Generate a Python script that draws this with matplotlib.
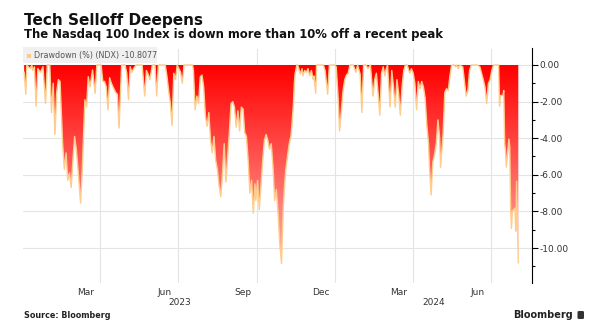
import numpy as np
import pandas as pd
import matplotlib
matplotlib.use('Agg')
import matplotlib.pyplot as plt
import matplotlib.dates as mdates
from matplotlib.colors import LinearSegmentedColormap
from matplotlib.patches import Polygon, Rectangle, FancyBboxPatch
from matplotlib.ticker import FuncFormatter
from matplotlib.transforms import blended_transform_factory

# Caida desde el maximo reciente del Nasdaq 100 (%)
fechas = [
    '2023-01-02', '2023-01-04', '2023-01-05', '2023-01-09', '2023-01-11', '2023-01-12',
    '2023-01-14', '2023-01-16', '2023-01-18', '2023-01-21', '2023-01-24', '2023-01-27',
    '2023-01-29', '2023-02-01', '2023-02-03', '2023-02-05', '2023-02-07', '2023-02-09',
    '2023-02-11', '2023-02-13', '2023-02-16', '2023-02-18', '2023-02-20', '2023-02-22',
    '2023-02-24', '2023-02-26', '2023-02-28', '2023-03-02', '2023-03-04', '2023-03-06',
    '2023-03-09', '2023-03-11', '2023-03-14', '2023-03-16', '2023-03-18', '2023-03-20',
    '2023-03-23', '2023-03-26', '2023-03-28', '2023-04-02', '2023-04-04', '2023-04-06',
    '2023-04-08', '2023-04-10', '2023-04-12', '2023-04-14', '2023-04-17', '2023-04-19',
    '2023-04-21', '2023-04-23', '2023-04-26', '2023-04-30', '2023-05-02', '2023-05-04',
    '2023-05-06', '2023-05-08', '2023-05-10', '2023-05-13', '2023-05-20', '2023-05-23',
    '2023-05-25', '2023-05-27', '2023-05-29', '2023-06-01', '2023-06-04', '2023-06-06',
    '2023-06-08', '2023-06-16', '2023-06-18', '2023-06-20', '2023-06-22', '2023-06-24',
    '2023-06-26', '2023-06-28', '2023-06-30', '2023-07-04', '2023-07-06', '2023-07-08',
    '2023-07-18', '2023-07-19', '2023-07-21', '2023-07-23', '2023-07-25', '2023-07-27',
    '2023-07-29', '2023-07-31', '2023-08-02', '2023-08-04', '2023-08-06', '2023-08-08',
    '2023-08-10', '2023-08-12', '2023-08-14', '2023-08-16', '2023-08-18', '2023-08-20',
    '2023-08-22', '2023-08-24', '2023-08-26', '2023-08-28', '2023-08-30', '2023-09-01',
    '2023-09-03', '2023-09-05', '2023-09-07', '2023-09-09', '2023-09-11', '2023-09-13',
    '2023-09-15', '2023-09-17', '2023-09-19', '2023-09-21', '2023-09-23', '2023-09-25',
    '2023-09-27', '2023-09-29', '2023-09-30', '2023-10-02', '2023-10-04', '2023-10-06',
    '2023-10-08', '2023-10-10', '2023-10-12', '2023-10-14', '2023-10-16', '2023-10-18',
    '2023-10-20', '2023-10-22', '2023-10-24', '2023-10-26', '2023-10-28', '2023-10-30',
    '2023-11-01', '2023-11-02', '2023-11-04', '2023-11-06', '2023-11-08', '2023-11-10',
    '2023-11-11', '2023-11-13', '2023-11-14', '2023-11-15', '2023-11-17', '2023-11-18',
    '2023-11-21', '2023-11-23', '2023-11-24', '2023-11-26', '2023-11-28', '2023-11-30',
    '2023-12-02', '2023-12-04', '2023-12-06', '2023-12-07', '2023-12-09', '2023-12-10',
    '2023-12-18', '2023-12-20', '2023-12-23', '2023-12-25', '2023-12-31', '2024-01-02',
    '2024-01-04', '2024-01-06', '2024-01-08', '2024-01-10', '2024-01-12', '2024-01-14',
    '2024-01-16', '2024-01-18', '2024-01-22', '2024-01-25', '2024-01-27', '2024-01-30',
    '2024-02-01', '2024-02-03', '2024-02-06', '2024-02-08', '2024-02-11', '2024-02-14',
    '2024-02-16', '2024-02-18', '2024-02-20', '2024-02-22', '2024-02-24', '2024-02-26',
    '2024-02-28', '2024-02-29', '2024-03-02', '2024-03-05', '2024-03-07', '2024-03-09',
    '2024-03-11', '2024-03-13', '2024-03-15', '2024-03-17', '2024-03-19', '2024-03-21',
    '2024-03-23', '2024-03-25', '2024-03-28', '2024-03-30', '2024-04-01', '2024-04-03',
    '2024-04-05', '2024-04-07', '2024-04-09', '2024-04-11', '2024-04-13', '2024-04-15',
    '2024-04-17', '2024-04-19', '2024-04-20', '2024-04-22', '2024-04-24', '2024-04-26',
    '2024-04-28', '2024-04-30', '2024-05-02', '2024-05-03', '2024-05-06', '2024-05-08',
    '2024-05-10', '2024-05-12', '2024-05-14', '2024-05-16', '2024-05-19', '2024-05-21',
    '2024-05-22', '2024-05-24', '2024-05-25', '2024-05-29', '2024-05-31', '2024-06-02',
    '2024-06-04', '2024-06-06', '2024-06-08', '2024-06-15', '2024-06-18', '2024-06-22',
    '2024-06-24', '2024-06-26', '2024-06-28', '2024-06-30', '2024-07-02', '2024-07-04',
    '2024-07-10', '2024-07-11', '2024-07-12', '2024-07-15', '2024-07-16', '2024-07-17',
    '2024-07-18', '2024-07-19', '2024-07-22', '2024-07-23', '2024-07-24', '2024-07-25',
    '2024-07-26', '2024-07-29', '2024-07-30', '2024-07-31', '2024-08-01', '2024-08-02',
]
drawdown = [
    -0.4, -1.6, 0, -0.2, 0, -0.3,
    -0.1, -2.25, -0.2, -0.4, -0.1, -2.1,
    0, 0, -2.6, -1.0, -3.8, -1.5,
    -0.8, -0.9, -4.3, -5.7, -4.8, -6.3,
    -5.9, -6.7, -5.2, -3.9, -4.6, -5.7,
    -7.55, -5.7, -1.9, -2.3, -0.64, -1.2,
    -0.27, -1.55, 0, 0, -0.9, -0.9,
    -1.2, -2.45, -0.7, -1.0, -1.3, -1.5,
    -1.6, -3.45, 0, 0, -0.45, -1.9,
    -0.1, -0.4, -0.2, 0, 0, -1.7,
    -0.3, -0.5, -0.8, 0, 0, -1.7,
    0, 0, -0.6, -1.4, -2.1, -3.3,
    -0.45, -0.8, 0, -0.4, -1.0, 0,
    0, -0.3, -2.45, -1.7, -2.1, -0.65,
    -0.55, -1.2, -2.8, -3.35, -2.6, -4.1,
    -4.8, -3.9, -5.2, -5.7, -6.6, -7.2,
    -5.9, -4.3, -6.4, -5.0, -3.7, -2.1,
    -2.0, -2.3, -3.4, -2.5, -3.6, -2.3,
    -2.4, -3.7, -3.9, -5.2, -7.0, -6.3,
    -8.1, -6.5, -7.4, -6.3, -7.9, -6.6,
    -5.2, -4.1, -3.8, -4.1, -4.6, -4.3,
    -5.5, -7.4, -6.8, -8.1, -9.8, -10.85,
    -7.9, -7.0, -5.7, -5.0, -4.3, -3.9,
    -3.4, -2.1, -1.0, -0.45, 0, 0,
    -0.5, -0.2, -0.6, -0.3, -0.4, -0.2,
    -0.6, -0.3, -0.8, -0.6, -1.55, 0,
    0, -0.3, -1.6, 0, 0, -0.1,
    -1.6, -3.6, -2.5, -1.4, -0.8, -0.55,
    -0.45, 0, 0, -0.4, 0, -0.5,
    -2.6, 0, 0, -0.2, 0, -1.7,
    -0.8, -0.45, -1.55, -2.75, -0.45, -0.1,
    -0.6, -0.3, 0, -2.3, -0.3, -1.2,
    -2.3, -0.8, -1.55, -2.75, -1.2, -0.3,
    0, 0, -0.45, -0.2, -0.45, -1.0,
    -2.45, -0.9, -1.3, -0.9, -1.2, -1.8,
    -3.3, -4.3, -5.5, -7.1, -5.3, -4.9,
    -4.3, -3.0, -4.0, -5.6, -3.8, -1.5,
    -1.3, -1.4, -0.6, 0, 0, -0.1,
    0, -0.2, 0, -0.1, -0.9, -1.7,
    -1.4, -0.3, 0, 0, -0.1, -0.8,
    -1.2, -2.1, -1.0, -0.8, -0.3, 0,
    0, -2.25, -1.67, -1.66, -1.40, -4.25,
    -4.70, -5.58, -4.05, -4.47, -7.94, -8.93,
    -7.99, -7.82, -9.08, -6.35, -8.63, -10.8077,
]

# Cortes trimestrales (lineas de la rejilla) y etiquetas de mes
lineas = ['2023-04-01', '2023-07-01', '2023-10-01', '2024-01-01', '2024-04-01', '2024-07-01']
fechas_mes = ['2023-03-15', '2023-06-15', '2023-09-15', '2023-12-15', '2024-03-15', '2024-06-15']
meses = ['Mar', 'Jun', 'Sep', 'Dec', 'Mar', 'Jun']
anios = ['2023', '2024']

x = mdates.date2num(pd.to_datetime(fechas))
y = np.array(drawdown)
x0 = mdates.date2num(pd.Timestamp('2023-01-01'))
x1 = mdates.date2num(pd.Timestamp('2024-08-18'))
y0, y1 = -11.9, 0.9

W, H = 591, 336
fig = plt.figure(figsize=(W / 100, H / 100), dpi=100)
ax = fig.add_axes([23.3 / W, 1 - 282.8 / H, (532 - 23.3) / W, 234.3 / H])

# Area con degradado: rojo arriba, rosa claro abajo
verts = np.column_stack([np.r_[x[0], x, x[-1]], np.r_[0, y, 0]])
poly = Polygon(verts, closed=True, facecolor='none', edgecolor='none')
ax.add_patch(poly)
cmap = LinearSegmentedColormap.from_list('rojo', ['#ff0000', '#ffc6bc'])
grad = np.linspace(0, 1, 256).reshape(-1, 1)
im = ax.imshow(grad, cmap=cmap, aspect='auto', extent=[x0, x1, y0, 0],
               origin='upper', zorder=2, interpolation='bilinear')
im.set_clip_path(poly)
ax.plot(x, y, color='#ffcc8c', lw=1.0, zorder=3)

ax.set_xlim(x0, x1)
ax.set_ylim(y0, y1)

# Eje y a la derecha
ax.yaxis.tick_right()
ax.set_yticks(np.arange(-10, 1, 2))
ax.set_yticks(np.arange(-11, 1, 1), minor=True)
ax.yaxis.set_major_formatter(FuncFormatter(lambda v, p: f'{v:.2f}'))
ax.tick_params(axis='y', which='major', length=4, width=0.8, pad=1.5,
               labelsize=6.5, labelcolor='#333333')
ax.tick_params(axis='y', which='minor', length=2, width=0.8)

# Eje x: rejilla en los cortes, etiquetas a mitad de mes
ax.set_xticks(mdates.date2num(pd.to_datetime(lineas)))
ax.set_xticklabels([])
ax.set_xticks(mdates.date2num(pd.to_datetime(fechas_mes)), minor=True)
ax.set_xticklabels(meses, minor=True)
ax.tick_params(axis='x', which='both', length=0, labelsize=6.5,
               labelcolor='#333333', pad=3.5)

ax.grid(True, which='major', color='#e4e4e4', lw=0.8)
ax.set_axisbelow(True)
for lado in ['top', 'left', 'bottom']:
    ax.spines[lado].set_visible(False)
ax.spines['right'].set_linewidth(0.8)

# Anos centrados en su tramo visible
trans = blended_transform_factory(ax.transData, ax.transAxes)
corte = mdates.date2num(pd.Timestamp('2024-01-01'))
for anio, c in zip(anios, [(x0 + corte) / 2, (corte + x1) / 2]):
    ax.text(c, -0.086, anio, transform=trans, ha='center', va='center',
            fontsize=6.5, color='#333333')

# Leyenda
fig.add_artist(Rectangle((23 / W, 1 - 63 / H), 134 / W, 16 / H, transform=fig.transFigure,
                         facecolor='#f0f0f0', edgecolor='none', zorder=5))
fig.add_artist(Rectangle((26.5 / W, 1 - 58 / H), 4.5 / W, 4.5 / H, transform=fig.transFigure,
                         facecolor='#ffc882', edgecolor='none', zorder=6))
fig.text(34 / W, 1 - 55.5 / H, 'Drawdown (%) (NDX) -10.8077', fontsize=5.8,
         color='#555555', va='center', zorder=6)

# Titulos
fig.text(23.5 / W, 1 - 25 / H, 'Tech Selloff Deepens', fontsize=11, weight='bold',
         va='baseline', color='#111111')
fig.text(23.5 / W, 1 - 37.7 / H, 'The Nasdaq 100 Index is down more than 10% off a recent peak',
         fontsize=8.4, weight='bold', va='baseline', color='#111111')

# Pie
fig.text(24 / W, 1 - 316 / H, 'Source: Bloomberg', fontsize=5.8, weight='bold',
         va='center', color='#222222')
fig.text(573 / W, 1 - 315 / H, 'Bloomberg', fontsize=7, weight='bold', ha='right',
         va='center', color='#222222')
fig.add_artist(FancyBboxPatch((577.5 / W, 1 - 319 / H), 6.5 / W, 8 / H,
                              boxstyle='round,pad=0,rounding_size=0.003',
                              transform=fig.transFigure, facecolor='#333333',
                              edgecolor='none'))

fig.savefig('out.png', dpi=100)
